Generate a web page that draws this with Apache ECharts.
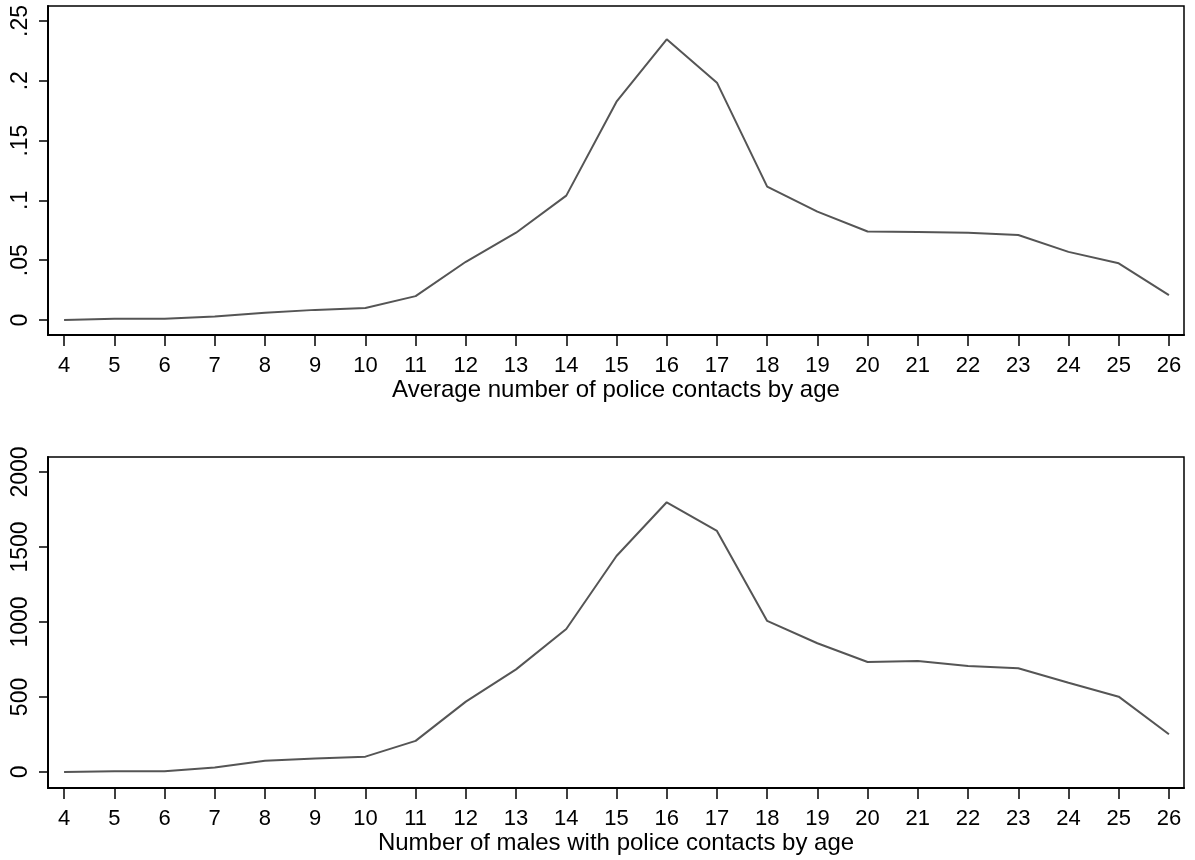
<!DOCTYPE html>
<html>
<head>
<meta charset="utf-8">
<script src="https://cdn.jsdelivr.net/npm/echarts@6/dist/echarts.min.js"></script>
<style>
  html, body { margin: 0; padding: 0; background: #fff; }
  #chart { width: 1195px; height: 860px; }
</style>
</head>
<body>
<div id="chart"></div>
<script>
// ages on the x axis
const ages = [4, 5, 6, 7, 8, 9, 10, 11, 12, 13, 14, 15, 16, 17, 18, 19, 20, 21, 22, 23, 24, 25, 26];
// top panel: average number of police contacts
const avgContacts = [0, 0.001, 0.001, 0.003, 0.006, 0.0085, 0.010, 0.020, 0.0487, 0.073, 0.104, 0.1825, 0.2347,
  0.1984, 0.1115, 0.0906, 0.074, 0.0735, 0.073, 0.0711, 0.057, 0.0474, 0.0209];
// bottom panel: number of males with police contacts
const malesCount = [0, 5, 5, 30, 75, 90, 102, 207, 469, 684, 953, 1440, 1798, 1607, 1007, 858, 733, 740, 707,
  691, 595, 502, 251];
const topTicks = [0, 0.05, 0.1, 0.15, 0.2, 0.25];
const bottomTicks = [0, 500, 1000, 1500, 2000];

const FONT = 'Liberation Sans';

// stata style: .05 instead of 0.05
const fmtTop = (v) => {
  if (v === 0) return '0';
  return String(+v.toFixed(2)).replace(/^0/, '');
};

const xAxisOf = (gridIndex, title) => ({
  type: 'value',
  gridIndex: gridIndex,
  min: 3.68,
  max: 26.3,
  name: title,
  nameLocation: 'middle',
  nameGap: 33,
  nameTextStyle: { fontFamily: FONT, fontSize: 24, color: '#000' },
  axisLine: { show: true, onZero: false, lineStyle: { color: '#000', width: 2 } },
  axisTick: { show: true, length: 11, customValues: ages, lineStyle: { color: '#000', width: 1.5 } },
  axisLabel: { customValues: ages, margin: 20, fontFamily: FONT, fontSize: 22, color: '#000' },
  splitLine: { show: false }
});

const yAxisOf = (gridIndex, min, max, ticks, fmt) => ({
  type: 'value',
  gridIndex: gridIndex,
  min: min,
  max: max,
  axisLine: { show: true, onZero: false, lineStyle: { color: '#000', width: 2 } },
  axisTick: { show: true, length: 9, customValues: ticks, lineStyle: { color: '#000', width: 1.5 } },
  axisLabel: {
    customValues: ticks,
    rotate: 90,
    margin: 16,
    fontFamily: FONT,
    fontSize: 23,
    color: '#000',
    formatter: fmt
  },
  splitLine: { show: false }
});

const lineSeries = (idx, vals) => ({
  type: 'line',
  xAxisIndex: idx,
  yAxisIndex: idx,
  data: ages.map((a, i) => [a, vals[i]]),
  symbol: 'none',
  silent: true,
  lineStyle: { color: '#555555', width: 2 }
});

const chart = echarts.init(document.getElementById('chart'), null, { renderer: 'canvas' });
chart.setOption({
  animation: false,
  backgroundColor: '#fff',
  grid: [
    { left: 48, top: 6, width: 1136, height: 329, show: true, borderColor: '#000', borderWidth: 1.5, backgroundColor: 'transparent' },
    { left: 48, top: 457, width: 1136, height: 331, show: true, borderColor: '#000', borderWidth: 1.5, backgroundColor: 'transparent' }
  ],
  xAxis: [
    xAxisOf(0, 'Average number of police contacts by age'),
    xAxisOf(1, 'Number of males with police contacts by age')
  ],
  yAxis: [
    yAxisOf(0, -0.0125, 0.2625, topTicks, fmtTop),
    yAxisOf(1, -107, 2100, bottomTicks, (v) => String(v))
  ],
  series: [
    lineSeries(0, avgContacts),
    lineSeries(1, malesCount)
  ]
});
</script>
</body>
</html>
